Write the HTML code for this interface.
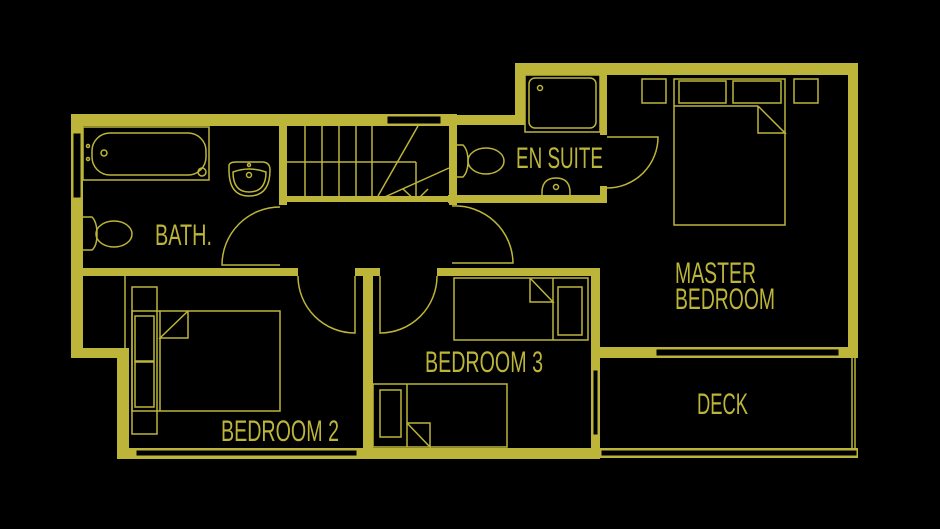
<!DOCTYPE html>
<html><head><meta charset="utf-8"><style>
html,body{margin:0;padding:0;background:#000;}
svg{display:block}
text{font-family:"Liberation Sans Narrow","Liberation Sans",sans-serif;fill:#bdb53a;}
</style></head><body>
<svg width="940" height="529" viewBox="0 0 940 529" xmlns="http://www.w3.org/2000/svg">
<rect width="940" height="529" fill="#000"/>
<g fill="#bdb53a">
<!-- outer left -->
<rect x="71" y="114" width="12" height="244"/>
<rect x="71" y="114" width="386" height="12"/>
<rect x="71" y="348" width="58" height="10"/>
<!-- en suite top -->
<rect x="440" y="115" width="85" height="10"/>
<rect x="515" y="63" width="10" height="62"/>
<rect x="515" y="63" width="343" height="12"/>
<rect x="848" y="63" width="10" height="295"/>
<!-- bath bottom wall -->
<rect x="83" y="268" width="215" height="8"/>
<!-- stair walls -->
<rect x="279" y="126" width="8" height="79"/>
<rect x="449" y="115" width="8" height="90"/>
<rect x="287" y="196" width="162" height="6"/>
<!-- en suite -->
<rect x="448" y="195" width="159" height="8"/>
<rect x="600" y="75" width="7" height="60"/>
<rect x="600" y="186" width="7" height="17"/>
<!-- hall lower walls -->
<rect x="355" y="268" width="25" height="8"/>
<rect x="437" y="268" width="161" height="8"/>
<rect x="363" y="268" width="10" height="191"/>
<rect x="117" y="350" width="12" height="109"/>
<rect x="117" y="448" width="483" height="11"/>
<!-- bed3 right / master bottom -->
<rect x="591" y="268" width="9" height="191"/>
<rect x="591" y="347" width="267" height="11"/>
<rect x="596" y="448" width="262" height="10"/>
</g>
<!-- windows -->
<g fill="#000" stroke="#bdb53a" stroke-width="1">
<rect x="387" y="116" width="54" height="8"/>
<rect x="73" y="133" width="8" height="65"/>
<rect x="656" y="349" width="183" height="7"/>
<rect x="136" y="450" width="221" height="6"/>
<rect x="601" y="450" width="256" height="6"/>
<rect x="593" y="370" width="5" height="65"/>
</g>
<g fill="none" stroke="#bdb53a" stroke-width="1.5">
<!-- bath -->
<rect x="83" y="127" width="126" height="53"/>
<rect x="92" y="133" width="114" height="42" rx="18"/>
<circle cx="104" cy="153" r="3"/><circle cx="88" cy="146" r="1.5"/><circle cx="88" cy="159" r="1.5"/>
<circle cx="202" cy="172" r="4"/>
<!-- sink -->
<path d="M229,166 Q229,162 236,162 L262,162 Q270,162 270,170 Q270,196 249,196 Q229,196 229,170 Z"/>
<path d="M233,172 Q249,166 266,172 Q266,192 249,192 Q233,192 233,172Z"/>
<circle cx="249" cy="175" r="2.5"/><circle cx="249" cy="165" r="1.5"/>
<!-- bath toilet -->
<path d="M83,217 L92,217 Q97,222 97,234 Q97,246 92,250 L83,250"/>
<ellipse cx="114" cy="234" rx="18" ry="13"/>
<!-- stairs -->
<line x1="287" y1="162" x2="416" y2="162"/><line x1="416" y1="162" x2="416" y2="198"/>
<line x1="305" y1="126" x2="305" y2="196"/><line x1="322" y1="126" x2="322" y2="196"/>
<line x1="339" y1="126" x2="339" y2="196"/><line x1="356" y1="126" x2="356" y2="196"/>
<line x1="372" y1="126" x2="372" y2="196"/>
<line x1="378" y1="196" x2="418" y2="126"/><line x1="378" y1="200" x2="449" y2="168"/>
<polyline points="403,189 416,201 428,189"/>
<!-- doors -->
<path d="M280,207 A58,58 0 0 0 222,265 L280,265"/>
<path d="M298,276 A57,57 0 0 0 355,333 L355,276"/>
<path d="M437,276 A57,57 0 0 1 380,333 L380,276"/>
<path d="M452,206 A58,58 0 0 1 513,263 L452,263"/>
<path d="M607,137 L658,137 A51,51 0 0 1 607,188"/>
<!-- en suite shower -->
<rect x="525" y="75" width="75" height="57"/>
<rect x="529" y="78" width="67" height="50" rx="6"/>
<circle cx="540" cy="88" r="2.5"/>
<!-- en suite toilet -->
<path d="M457,145 L463,145 Q468,150 468,161 Q468,172 463,177 L457,177"/>
<ellipse cx="486" cy="161" rx="18" ry="13"/>
<path d="M542,195 Q541,178 556,178 Q571,178 570,195"/>
<circle cx="556" cy="187" r="2.5"/>
<!-- master bed -->
<rect x="674" y="79" width="111" height="146"/>
<rect x="679" y="81" width="47" height="22"/><rect x="733" y="81" width="48" height="22"/>
<line x1="674" y1="106" x2="758" y2="106"/>
<polyline points="758,106 785,133 758,133 758,106"/>
<rect x="642" y="79" width="24" height="24"/><rect x="794" y="79" width="24" height="24"/>
<!-- bed2 -->
<rect x="132" y="311" width="148" height="100"/>
<rect x="132" y="287" width="25" height="147"/>
<rect x="135" y="316" width="19" height="45"/><rect x="135" y="362" width="19" height="45"/>
<polyline points="188,311 160,338 188,338 188,311"/>
<line x1="160" y1="311" x2="160" y2="411"/>
<line x1="125" y1="276" x2="125" y2="350"/>
<!-- bed3 -->
<rect x="454" y="278" width="134" height="62"/>
<rect x="558" y="287" width="24" height="48"/>
<polyline points="530,278 553,302 530,302 530,278"/>
<line x1="553" y1="278" x2="553" y2="340"/>
<rect x="373" y="384" width="134" height="63"/>
<rect x="380" y="390" width="21" height="47"/>
<line x1="407" y1="384" x2="407" y2="447"/>
<polyline points="407,423 430,447 430,423 407,423"/>
<!-- deck rail -->
<line x1="852" y1="358" x2="852" y2="448"/><line x1="855" y1="358" x2="855" y2="448"/>
</g>
<text x="155" y="245" font-size="30" textLength="57" lengthAdjust="spacingAndGlyphs">BATH.</text>
<text x="516" y="168" font-size="30" textLength="87" lengthAdjust="spacingAndGlyphs">EN SUITE</text>
<text x="675" y="283" font-size="30" textLength="81" lengthAdjust="spacingAndGlyphs">MASTER</text>
<text x="675" y="309" font-size="30" textLength="100" lengthAdjust="spacingAndGlyphs">BEDROOM</text>
<text x="425" y="372" font-size="30" textLength="118" lengthAdjust="spacingAndGlyphs">BEDROOM 3</text>
<text x="221" y="441" font-size="30" textLength="118" lengthAdjust="spacingAndGlyphs">BEDROOM 2</text>
<text x="697" y="414" font-size="30" textLength="51" lengthAdjust="spacingAndGlyphs">DECK</text>
</svg>
</body></html>
